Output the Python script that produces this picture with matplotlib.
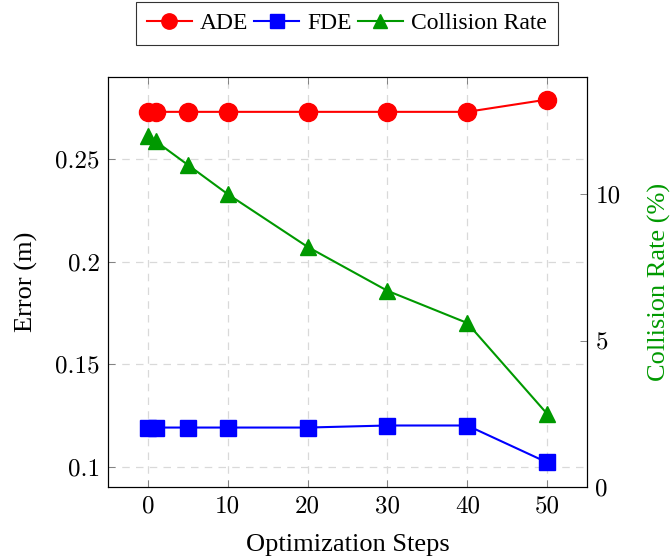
import numpy as np
import matplotlib
matplotlib.use('Agg')
import matplotlib.pyplot as plt

# Data
steps = [0, 1, 5, 10, 20, 30, 40, 50]
ade = [0.273, 0.273, 0.273, 0.273, 0.273, 0.273, 0.273, 0.279]
fde = [0.119, 0.119, 0.119, 0.119, 0.119, 0.120, 0.120, 0.102]
collision = [12.0, 11.8, 11.0, 10.0, 8.2, 6.7, 5.6, 2.5]

x_ticks = [0, 10, 20, 30, 40, 50]
err_ticks = [0.1, 0.15, 0.2, 0.25]
err_tick_labels = ['0.1', '0.15', '0.2', '0.25']
col_ticks = [0, 5, 10]

green = (0.0, 0.6, 0.0)

plt.rcParams['font.family'] = ['Liberation Serif', 'DejaVu Serif']

fig = plt.figure(figsize=(6.71, 5.56), dpi=100)
ax = fig.add_axes([108/671, 1 - 487/556, (587-108)/671, (487-77)/556])
ax2 = ax.twinx()

# Error curves
l1, = ax.plot(steps, ade, color='red', marker='o', markersize=13, linewidth=1.5, label='ADE')
l2, = ax.plot(steps, fde, color='blue', marker='s', markersize=12, linewidth=1.5, label='FDE')

# Collision rate on right axis
l3, = ax2.plot(steps, collision, color=green, marker='^', markersize=12, linewidth=1.5,
               label='Collision Rate')

ax.set_xlim(-5, 55)
ax.set_ylim(0.09, 0.29)
ax2.set_ylim(0, 14)

ax.set_xticks(x_ticks)
ax.set_xticklabels([str(t) for t in x_ticks], fontfamily='cmr10', fontsize=18)
ax.set_yticks(err_ticks)
ax.set_yticklabels(err_tick_labels, fontfamily='cmr10', fontsize=18)
ax2.set_yticks(col_ticks)
ax2.set_yticklabels([str(t) for t in col_ticks], fontfamily='cmr10', fontsize=18)

ax.tick_params(direction='in', length=5, width=0.6, color='0.45', top=True, pad=6)
ax2.tick_params(direction='in', length=5, width=0.6, color='0.45', pad=6)

ax.grid(True, linestyle=(0, (6, 5)), color='0.85', linewidth=0.9)
ax.set_axisbelow(True)

ax.set_xlabel('Optimization Steps', fontsize=19, labelpad=12)
ax.set_ylabel('Error (m)', fontsize=19, labelpad=12)
ax2.set_ylabel('Collision Rate (%)', fontsize=19, color=green, labelpad=20)

for a in (ax, ax2):
    for s in a.spines.values():
        s.set_linewidth(0.8)

leg = fig.legend(handles=[l1, l2, l3], loc='upper center', bbox_to_anchor=(347/671, 1 - 2/556),
                 borderaxespad=0, ncol=3, fontsize=17, frameon=True, fancybox=False,
                 edgecolor='black', handlelength=1.9, handletextpad=0.35, columnspacing=0.25,
                 borderpad=0.45, markerscale=0.85)
leg.get_frame().set_linewidth(0.8)

fig.savefig('out.png', dpi=100)
